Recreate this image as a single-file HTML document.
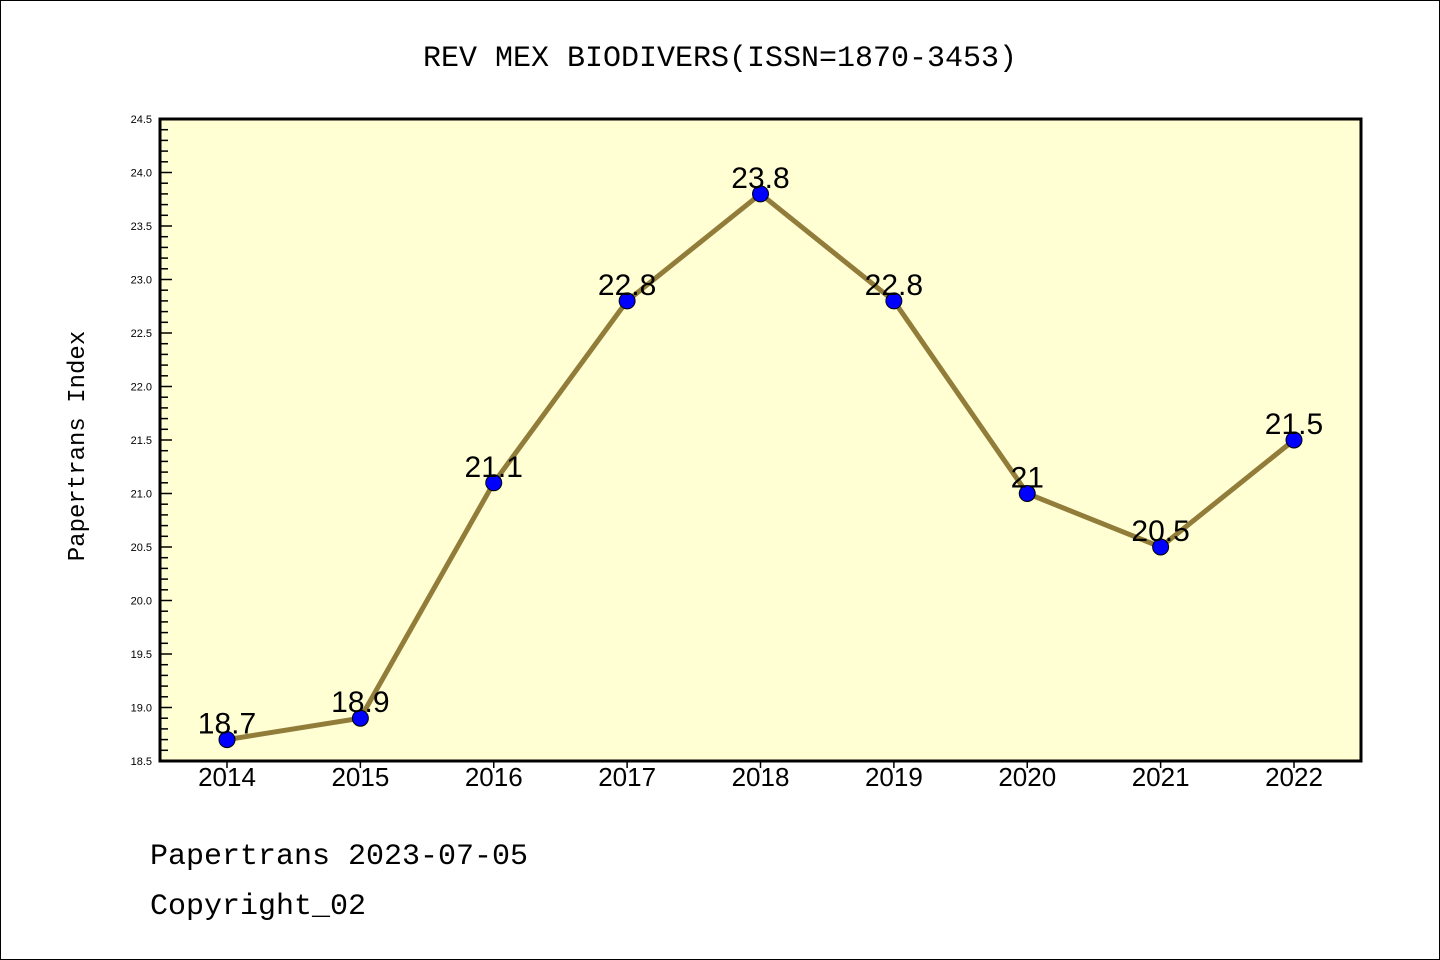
<!DOCTYPE html>
<html><head><meta charset="utf-8"><style>
body{margin:0;background:#fff}
svg{display:block;font-family:"Liberation Sans","WenQuanYi Zen Hei",sans-serif}
</style></head><body>
<svg id="c" width="1440" height="960" xmlns="http://www.w3.org/2000/svg">
<rect x="0.5" y="0.5" width="1439" height="959" fill="#fff" stroke="#000"/>
<text x="720" y="66" text-anchor="middle" font-size="30" font-family="'Liberation Mono',monospace">REV MEX BIODIVERS(ISSN=1870-3453)</text>
<rect x="160" y="119" width="1201" height="642" fill="#ffffd3"/>
<g id="ticks"></g>
<g id="series"></g>
<rect x="160" y="119" width="1201" height="642" fill="none" stroke="#000" stroke-width="3"/>
<text transform="translate(84,446) rotate(-90)" text-anchor="middle" font-size="24" font-family="'Liberation Mono',monospace">Papertrans Index</text>
<text x="150" y="864" font-size="30" font-family="'Liberation Mono',monospace">Papertrans 2023-07-05</text>
<text x="150" y="914" font-size="30" font-family="'Liberation Mono',monospace">Copyright_02</text>
</svg>
<script>
const years=["2014","2015","2016","2017","2018","2019","2020","2021","2022"];
const values=[18.7,18.9,21.1,22.8,23.8,22.8,21.0,20.5,21.5];
const valueLabels=["18.7","18.9","21.1","22.8","23.8","22.8","21","20.5","21.5"];
const yTicks=["18.5","19.0","19.5","20.0","20.5","21.0","21.5","22.0","22.5","23.0","23.5","24.0","24.5"];
const NS="http://www.w3.org/2000/svg";
const yMin=18.5,yMax=24.5,plotTop=119,plotBot=761;
function ys(v){return plotBot-(v-yMin)/(yMax-yMin)*(plotBot-plotTop);}
function xs(i){return 227+i*(1294-227)/(years.length-1);}
function mk(t,a,p){const e=document.createElementNS(NS,t);for(const k in a)e.setAttribute(k,a[k]);p.appendChild(e);return e;}
const tg=document.getElementById('ticks'),sg=document.getElementById('series');
for(let k=0;k<=60;k++){const v=yMin+k*0.1;const y=ys(v);const major=k%5===0;
 const l=mk('line',{x1:160,x2:160+(major?12:8),y1:y,y2:y,stroke:'#000','stroke-width':1.5},tg);
 
 }
yTicks.forEach(t=>{const e=mk('text',{x:152,y:ys(+t)+4,'text-anchor':'end','font-size':11},tg);e.textContent=t;
 
 });
years.forEach((yr,i)=>{const x=xs(i);
 const l=mk('line',{x1:x,x2:x,y1:761,y2:768,stroke:'#000','stroke-width':1.5},tg);
 
 
 const e=mk('text',{x:x,y:786,'text-anchor':'middle','font-size':26},tg);e.textContent=yr;
 
 });
const pts=values.map((v,i)=>xs(i)+','+ys(v)).join(' ');
const pl=mk('polyline',{points:pts,fill:'none',stroke:'#917d39','stroke-width':5},sg);


values.forEach((v,i)=>{
 const c=mk('circle',{cx:xs(i),cy:ys(v),r:8,fill:'#0000ff',stroke:'#000','stroke-width':1},sg);
 
 
 const t=mk('text',{x:xs(i),y:ys(v)-6,'text-anchor':'middle','font-size':30},sg);
 t.textContent=valueLabels[i];
 
 });
</script>
</body></html>
